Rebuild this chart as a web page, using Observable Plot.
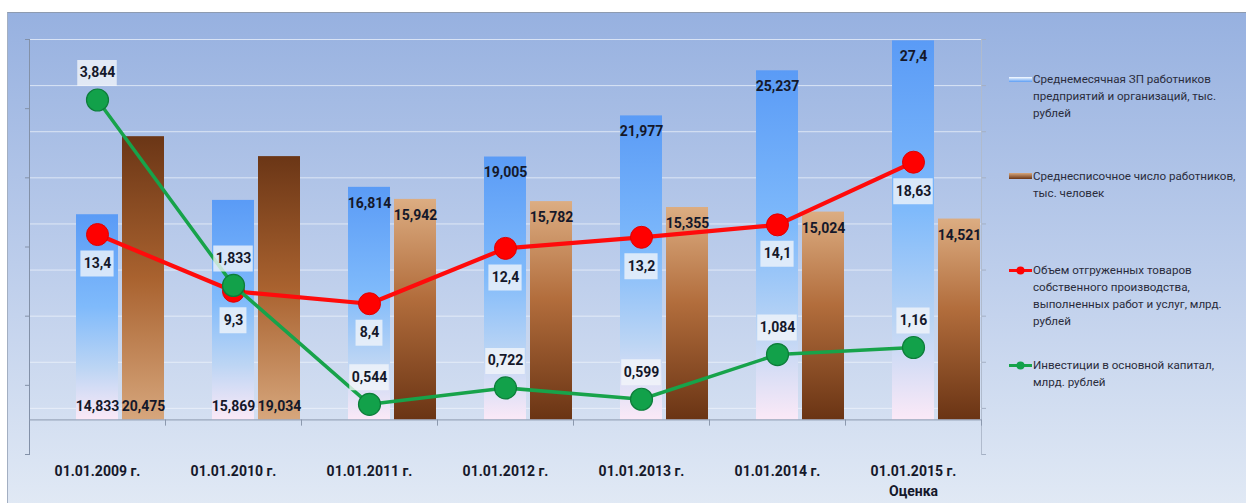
<!DOCTYPE html>
<html><head><meta charset="utf-8">
<script src="https://cdn.jsdelivr.net/npm/d3@7"></script>
<script src="https://cdn.jsdelivr.net/npm/@observablehq/plot@0.6"></script>
<style>
body{margin:0;background:#fff;}
#wrap{position:relative;width:1246px;height:503px;overflow:hidden;background:#fff;font-family:Roboto,"Noto Sans",sans-serif;}
#panel{position:absolute;left:7px;top:12px;width:1245px;height:500px;border-top:1px solid #8e9bb0;border-left:1px solid #a3afc2;background:linear-gradient(#97b1e0,#bccdeb 50%,#e2eaf5);}
#chart{position:absolute;left:0;top:0;}
.item{position:absolute;left:1009px;white-space:nowrap;font-size:11.6px;color:#2a2c3c;line-height:17px;}
.item svg{position:absolute;left:0;top:0;}
.item div{margin-left:24px;}
</style></head><body>
<div id="wrap"><div id="panel"></div><div id="chart"></div></div>
<script>
const categories = ["01.01.2009 г.", "01.01.2010 г.", "01.01.2011 г.", "01.01.2012 г.", "01.01.2013 г.", "01.01.2014 г.", "01.01.2015 г."];
const categoryNotes = ["", "", "", "", "", "", "Оценка"];
const salary = [14.833, 15.869, 16.814, 19.005, 21.977, 25.237, 27.4];
const employees = [20.475, 19.034, 15.942, 15.782, 15.355, 15.024, 14.521];
const shipped = [13.4, 9.3, 8.4, 12.4, 13.2, 14.1, 18.63];
const investment = [3.844, 1.833, 0.544, 0.722, 0.599, 1.084, 1.16];
const seriesNames = [
  "Среднемесячная ЗП работников\nпредприятий и организаций, тыс.\nрублей",
  "Среднесписочное число  работников,\nтыс. человек",
  "Объем отгруженных товаров\nсобственного производства,\nвыполненных работ и услуг, млрд.\nрублей",
  "Инвестиции в основной капитал,\nмлрд. рублей"
];
const primaryDomain = [-2.5, 27.5];
const secondaryDomain = [0, 4.5];
const primaryTicks = d3.range(-2.5, 27.6, 5);
const secondaryTicks = d3.range(0, 4.51, 0.5);

const y2 = d3.scaleLinear().domain(secondaryDomain).range(primaryDomain);
const fmt = v => String(v).replace(".", ",");
const rows = categories.map((c, i) => ({
  c, i, salary: salary[i], employees: employees[i], shipped: shipped[i],
  investment: investment[i], inv2: y2(investment[i])
}));

const FONT = 'Roboto,"Noto Sans",sans-serif';
const textColor = "#15182a";
const LABEL_SIZE = 14;

function defs() {
  const d = d3.create("svg:defs");
  const grad = (id, stops) => {
    const g = d.append("linearGradient").attr("id", id).attr("x1", 0).attr("y1", 0).attr("x2", 0).attr("y2", 1);
    for (const [o, c] of stops) g.append("stop").attr("offset", o).attr("stop-color", c);
  };
  grad("gBlue", [[0, "#5a9bf6"], [0.45, "#7fbafb"], [0.75, "#bcd5f4"], [1, "#fbe9f7"]]);
  grad("gBrownUp", [[0, "#dcad82"], [0.45, "#b26d3c"], [1, "#6a3414"]]);
  grad("gBrownDown", [[0, "#6b3616"], [0.5, "#a9622f"], [1, "#d6a67c"]]);
  return d.node();
}

function labelBoxes(data, yKey, dy, fill) {
  const marks = [];
  for (const len of [3, 4, 5]) {
    const sub = data.filter(d => d.label.length === len);
    if (!sub.length) continue;
    const w = 8 + len * 6.3;
    const inset = (136 - w) / 2;
    marks.push(Plot.tickY(sub, {x: "c", y: yKey, dy, stroke: fill, strokeOpacity: 0.78, strokeWidth: 26, insetLeft: inset, insetRight: inset}));
  }
  return marks;
}

const redRows = rows.map(d => ({...d, label: fmt(d.shipped)}));
const greenRows = rows.map(d => ({...d, label: fmt(d.investment)}));
const lowBlue = rows.filter(d => d.salary < 16);
const highBlue = rows.filter(d => d.salary >= 16);
const tallBrown = rows.filter(d => d.employees > 18);
const shortBrown = rows.filter(d => d.employees <= 18);
const labelStyle = {fontSize: LABEL_SIZE, fontWeight: "bold", fill: textColor};

const chart = Plot.plot({
  width: 1000,
  height: 503,
  marginLeft: 29,
  marginRight: 19,
  marginTop: 39,
  marginBottom: 49,
  style: {background: "transparent", fontFamily: FONT, overflow: "visible"},
  x: {type: "band", domain: categories, padding: 0, axis: null, label: null},
  y: {domain: primaryDomain, axis: null, label: null},
  marks: [
    defs,
    Plot.gridY(secondaryTicks.slice(1).map(y2), {stroke: "#eef3fb", strokeOpacity: 0.75}),
    Plot.axisY({ticks: primaryTicks, tickSize: 4, tickFormat: () => "", stroke: "#8391a8", label: null}),
    Plot.axisY({anchor: "right", ticks: secondaryTicks.map(y2), tickSize: 4, tickFormat: () => "", stroke: "#a4b0c4", label: null}),
    Plot.frame({anchor: "left", stroke: "#8391a8"}),
    Plot.frame({anchor: "right", stroke: "#b0bbcd"}),
    Plot.barY(rows, {x: "c", y: "salary", fill: "url(#gBlue)", insetLeft: 47, insetRight: 47}),
    Plot.barY(tallBrown, {x: "c", y: "employees", fill: "url(#gBrownDown)", insetLeft: 93, insetRight: 1}),
    Plot.barY(shortBrown, {x: "c", y: "employees", fill: "url(#gBrownUp)", insetLeft: 93, insetRight: 1}),
    Plot.ruleY([0], {stroke: "#8c99ae"}),
    Plot.ruleX(rows, {x: "c", y1: 0, y2: -0.45, dx: 68, stroke: "#8c99ae"}),
    Plot.axisX({tickSize: 0, tickPadding: 8, fontSize: 14, fontWeight: "bold", fill: textColor, lineHeight: 1.4, label: null,
      tickFormat: (c) => { const n = categoryNotes[categories.indexOf(c)]; return n ? c + "\n" + n : c; }}),
    Plot.line(rows, {x: "c", y: "shipped", stroke: "#ff0b0b", strokeWidth: 4.2}),
    Plot.dot(rows, {x: "c", y: "shipped", r: 11, fill: "#ff0000", stroke: "#e00000", strokeWidth: 1}),
    Plot.line(rows, {x: "c", y: "inv2", stroke: "#17a34a", strokeWidth: 3.5}),
    Plot.dot(rows, {x: "c", y: "inv2", r: 11, fill: "#12a14a", stroke: "#0d7d3a", strokeWidth: 1.2}),
    // bar value labels
    Plot.text(lowBlue, {x: "c", y: 0, dy: -13, text: d => fmt(d.salary), ...labelStyle}),
    Plot.text(highBlue, {x: "c", y: "salary", dy: 16, text: d => fmt(d.salary), ...labelStyle}),
    Plot.text(tallBrown, {x: "c", y: 0, dy: -13, dx: 46, text: d => fmt(d.employees), ...labelStyle}),
    Plot.text(shortBrown, {x: "c", y: "employees", dy: 16, dx: 46, text: d => fmt(d.employees), ...labelStyle}),
    // line labels with boxes
    ...labelBoxes(redRows, "shipped", 29, "#f4f6fa"),
    Plot.text(redRows, {x: "c", y: "shipped", dy: 29, text: "label", ...labelStyle}),
    ...labelBoxes(greenRows, "inv2", -27, "#f4f6fa"),
    Plot.text(greenRows, {x: "c", y: "inv2", dy: -27, text: "label", ...labelStyle})
  ]
});
document.getElementById("chart").appendChild(chart);

// legend
const wrap = document.getElementById("wrap");
const legendTops = [71, 168, 262, 357];
const markers = [
  `<svg width="24" height="17"><defs><linearGradient id="lgB" x1="0" y1="0" x2="0" y2="1"><stop offset="0" stop-color="#fbfdff"/><stop offset="1" stop-color="#5d9ef4"/></linearGradient></defs><rect x="0" y="6" width="23" height="5" fill="url(#lgB)"/></svg>`,
  `<svg width="24" height="17"><defs><linearGradient id="lgR" x1="0" y1="0" x2="0" y2="1"><stop offset="0" stop-color="#d8a77c"/><stop offset="1" stop-color="#6b3516"/></linearGradient></defs><rect x="0" y="5" width="23" height="6" fill="url(#lgR)"/></svg>`,
  `<svg width="24" height="17"><line x1="0" x2="23" y1="8.5" y2="8.5" stroke="#ff0b0b" stroke-width="3"/><circle cx="11.5" cy="8.5" r="4" fill="#ff0000"/></svg>`,
  `<svg width="24" height="17"><line x1="0" x2="23" y1="8.5" y2="8.5" stroke="#17a34a" stroke-width="3"/><circle cx="11.5" cy="8.5" r="4" fill="#12a14a"/></svg>`
];
seriesNames.forEach((name, k) => {
  const item = document.createElement("div");
  item.className = "item";
  item.style.top = legendTops[k] + "px";
  item.innerHTML = markers[k] + "<div>" + name.split("\n").join("<br>") + "</div>";
  wrap.appendChild(item);
});
</script>
</body></html>
